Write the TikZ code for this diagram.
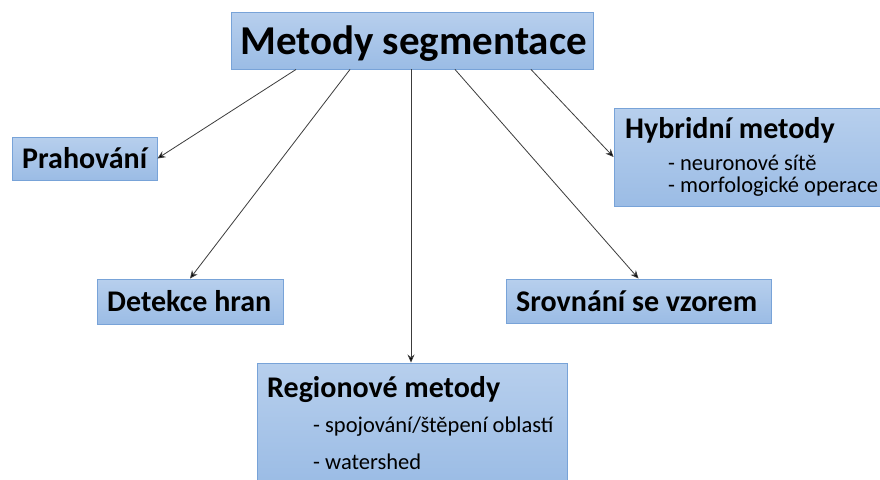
\documentclass[tikz,border=0pt]{standalone}
\usepackage{fontspec}
\setmainfont{Carlito}
\usetikzlibrary{arrows.meta,calc}
\definecolor{boxtop}{RGB}{183,207,237}
\definecolor{boxbot}{RGB}{155,188,229}
\definecolor{boxline}{RGB}{120,163,216}
\definecolor{arrowc}{RGB}{60,60,60}
\tikzset{
  box/.style={rectangle, draw=boxline, line width=0.9pt, top color=boxtop, bottom color=boxbot, inner sep=0pt},
  head/.style={anchor=base west, inner sep=0pt, font=\bfseries\fontsize{30}{34}\selectfont},
  item/.style={anchor=base west, inner sep=0pt, font=\fontsize{22.5}{26}\selectfont},
  conn/.style={draw=arrowc, line width=0.8pt, -{Stealth[length=8pt,width=7pt,fill=black]}}
}
\begin{document}
\begin{tikzpicture}[x=1pt,y=-1pt]
\useasboundingbox (0,0) rectangle (880,479);
\fill[white] (0,0) rectangle (880,479);
% boxes
\node[box, minimum width=362pt, minimum height=57pt] (main) at (412,40.5) {};
\node[box, minimum width=145pt, minimum height=43pt] (prah) at (84.5,158.5) {};
\node[box, minimum width=186pt, minimum height=45pt] (det) at (190,301.5) {};
\node[box, minimum width=310pt, minimum height=120pt] (reg) at (412,423) {};
\node[box, minimum width=265pt, minimum height=44pt] (srov) at (638.5,301) {};
\node[box, minimum width=272pt, minimum height=98pt] (hyb) at (750,157) {};
% texts
\node[anchor=base west, inner sep=0pt, font=\bfseries\fontsize{41}{46}\selectfont] (tmain) at (240,54) {Metody segmentace};
\node[head] (tprah) at (22,168) {Prahování};
\node[head] (tdet) at (107,311) {Detekce hran};
\node[head] (tsrov) at (516,311) {Srovnání se vzorem};
\node[head] (thyb) at (625,138.5) {Hybridní metody};
\node[item] (thyb1) at (668,170) {- neuronové sítě};
\node[item] (thyb2) at (668,192) {- morfologické operace};
\node[head] (treg) at (267,397) {Regionové metody};
\node[item] (treg1) at (313,432) {- spojování/štěpení oblastí};
\node[item] (treg2) at (313,469) {- watershed};
% connector start points
\coordinate (s1) at ($(main.south)+(-116,0)$);
\coordinate (s2) at ($(main.south)+(-62,0)$);
\coordinate (s3) at ($(main.south)+(-1,0)$);
\coordinate (s4) at ($(main.south)+(43,0)$);
\coordinate (s5) at ($(main.south)+(119,0)$);
\draw[conn] (s1) -- (prah.east);
\draw[conn] (s2) -- (det.north);
\draw[conn] (s3) -- (s3 |- reg.north);
\draw[conn] (s4) -- (srov.north);
\draw[conn] (s5) -- (hyb.west);
\end{tikzpicture}
\end{document}
